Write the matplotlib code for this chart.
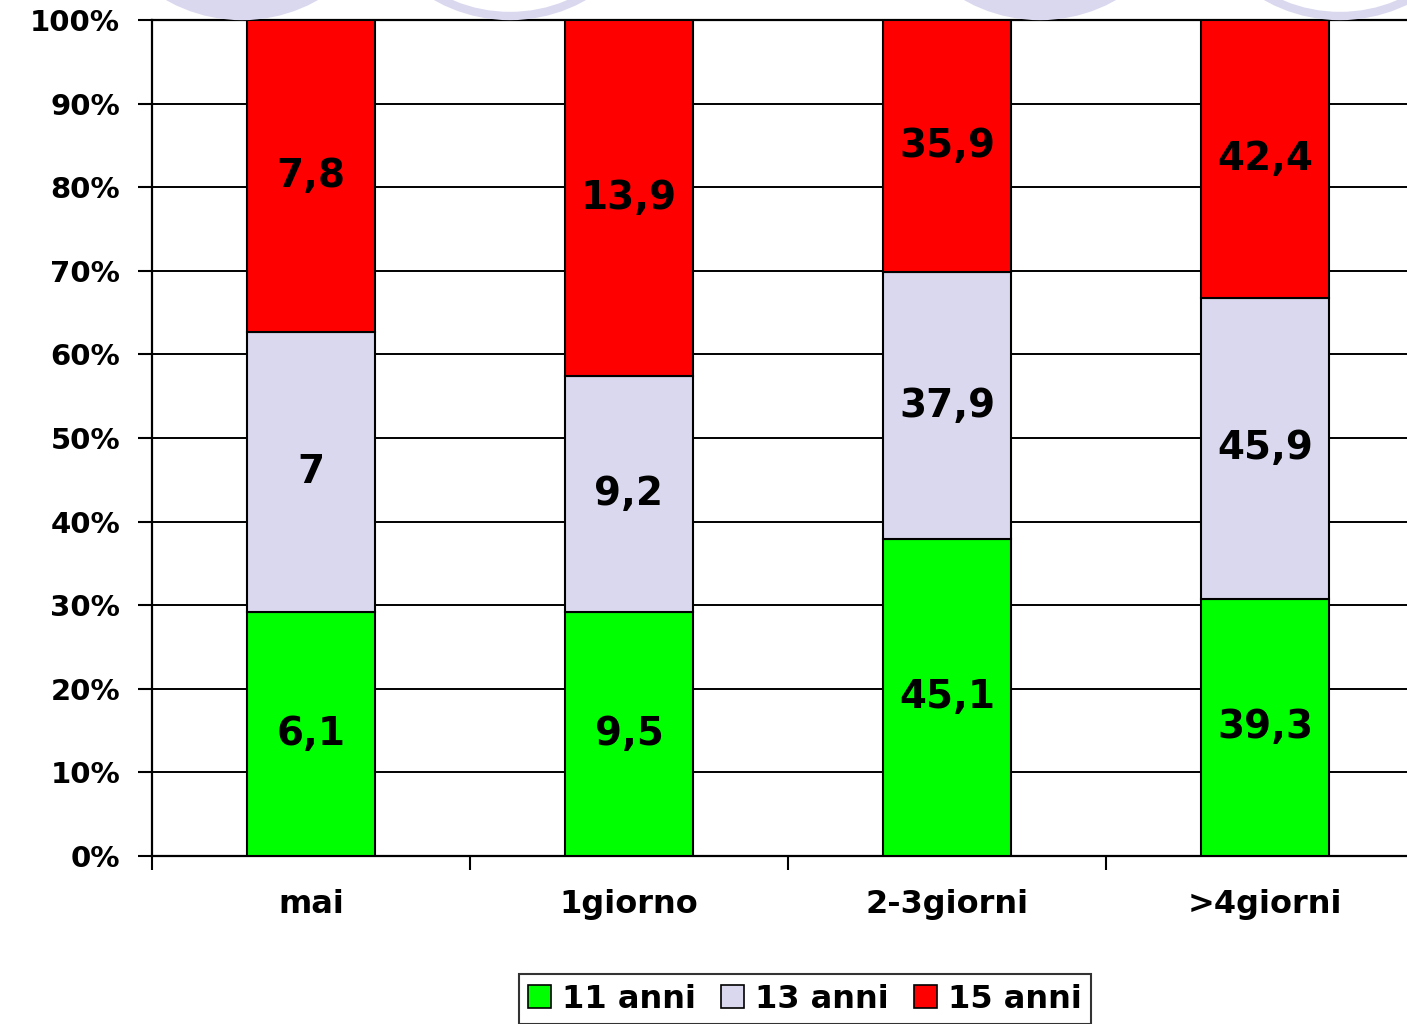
import matplotlib.pyplot as plt
from matplotlib.patches import Ellipse, Patch

# Data (values shown on the bars)
categories = ['mai', '1giorno', '2-3giorni', '>4giorni']
series_names = ['11 anni', '13 anni', '15 anni']
anni_11 = [6.1, 9.5, 45.1, 39.3]
anni_13 = [7, 9.2, 37.9, 45.9]
anni_15 = [7.8, 13.9, 35.9, 42.4]
labels_11 = ['6,1', '9,5', '45,1', '39,3']
labels_13 = ['7', '9,2', '37,9', '45,9']
labels_15 = ['7,8', '13,9', '35,9', '42,4']
colors = ['#00FF00', '#DAD8EE', '#FF0000']

plt.rcParams['font.family'] = 'DejaVu Sans'
plt.rcParams['font.weight'] = 'bold'

W, H = 1407, 1024
fig = plt.figure(figsize=(W / 100, H / 100), dpi=100)

# decorative lavender circles peeking from the top of the slide
for cx, filled in [(242, True), (510, False), (1040, True), (1340, False)]:
    r = 150
    e = Ellipse((cx / W, (H + r - 16) / H), 2 * r / W, 2 * r / H,
                transform=fig.transFigure,
                facecolor='#DAD8EE' if filled else 'none',
                edgecolor='#DAD8EE', linewidth=6, zorder=0)
    fig.patches.append(e)

ax = fig.add_axes([152 / W, 1 - 856 / H, 1272 / W, 836 / H])
ax.patch.set_alpha(0)

totals = [a + b + c for a, b, c in zip(anni_11, anni_13, anni_15)]
p11 = [v / t * 100 for v, t in zip(anni_11, totals)]
p13 = [v / t * 100 for v, t in zip(anni_13, totals)]
p15 = [v / t * 100 for v, t in zip(anni_15, totals)]

x = list(range(len(categories)))
bottom = [0] * len(x)
for vals, labs, col in [(p11, labels_11, colors[0]), (p13, labels_13, colors[1]), (p15, labels_15, colors[2])]:
    bars = ax.bar(x, vals, bottom=bottom, width=0.4, color=col,
                  edgecolor='black', linewidth=1.5, zorder=3)
    for xi, v, b, lab in zip(x, vals, bottom, labs):
        ax.text(xi, b + v / 2, lab, ha='center', va='center',
                fontsize=28, fontweight='bold', zorder=4)
    bottom = [b + v for b, v in zip(bottom, vals)]

ax.set_xlim(-0.5, 3.5)
ax.set_ylim(0, 100)
ax.set_yticks(range(0, 101, 10))
ax.set_yticklabels([f'{v}%' for v in range(0, 101, 10)], fontsize=21, fontweight='bold')
ax.yaxis.grid(True, color='black', linewidth=1.4, zorder=1)
ax.tick_params(axis='y', direction='out', length=10, width=1.5, pad=13)

ax.set_xticks([-0.5, 0.5, 1.5, 2.5, 3.5])
ax.set_xticklabels([])
ax.set_xticks(x, minor=True)
ax.set_xticklabels(categories, minor=True, fontsize=23, fontweight='bold')
ax.tick_params(axis='x', which='major', direction='out', length=10, width=1.5)
ax.tick_params(axis='x', which='minor', length=0, pad=24)

for s in ['left', 'bottom', 'top']:
    ax.spines[s].set_linewidth(1.6)
ax.spines['right'].set_visible(False)

handles = [Patch(facecolor=c, edgecolor='black', linewidth=1.2) for c in colors]
leg = fig.legend(handles, series_names, loc='upper center',
                 bbox_to_anchor=(805 / W, 1 - 958 / H), ncol=3,
                 prop={'size': 23, 'weight': 'bold'}, frameon=True, fancybox=False,
                 edgecolor='black', handlelength=0.7, handleheight=0.7,
                 handletextpad=0.35, columnspacing=0.8, borderpad=0.3)
leg.get_frame().set_linewidth(1.5)

fig.savefig('out.png', dpi=100)
